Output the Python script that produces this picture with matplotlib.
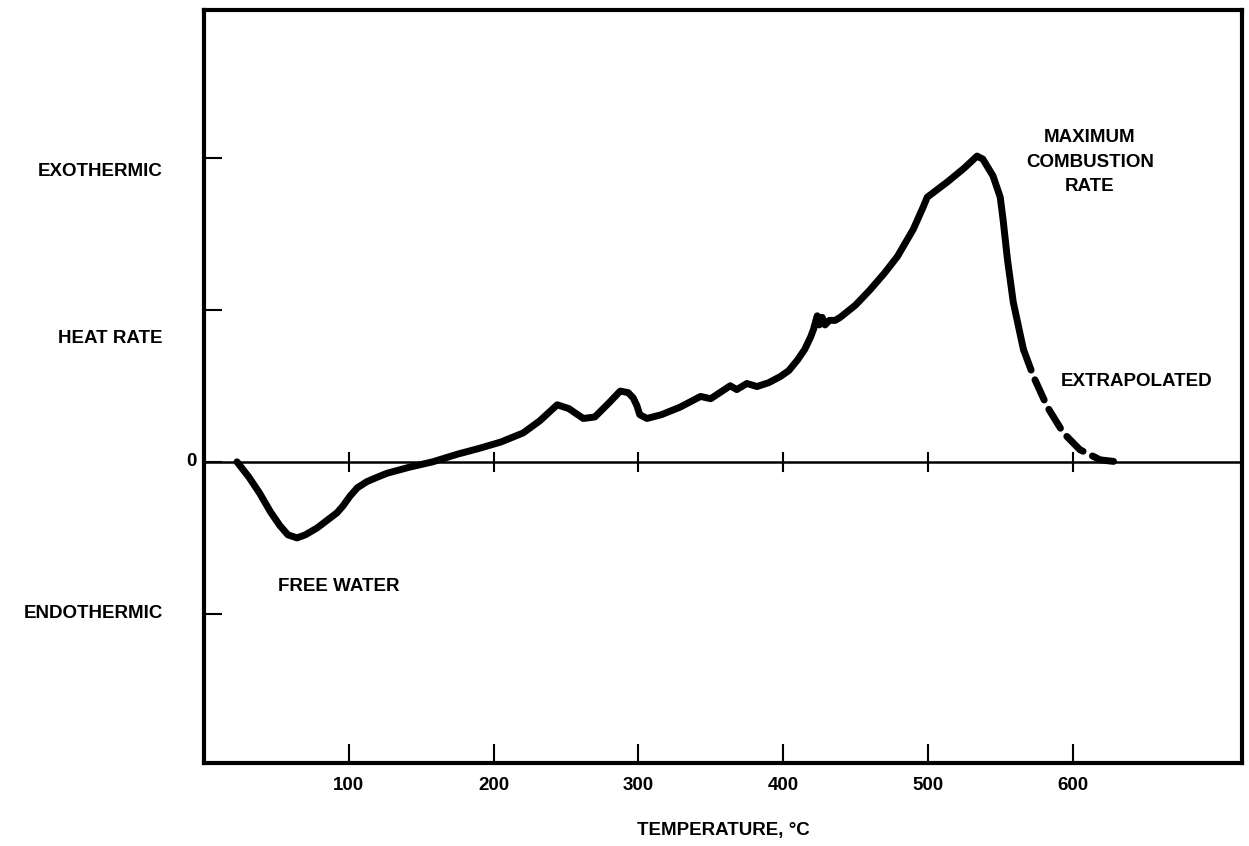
import matplotlib.pyplot as plt

# heat rate trace (temperature in C, heat rate in tick units)
temp_measured = [22.8, 31, 38.7, 46, 52.5, 58, 64.3, 70, 78.1, 85, 91.9, 96, 100.9,
                 106, 112.6, 120, 126.5, 142, 158, 175, 190.7, 205, 220.5, 232,
                 244, 252, 262, 270, 280, 287.5, 293, 296.5, 299, 301, 306, 316,
                 329, 343, 350, 363.5, 368, 375, 382, 390, 398, 404, 410, 415,
                 419, 421, 423.6, 425, 427, 429, 432, 436, 439.5, 450, 460, 470, 479,
                 490, 497, 499.6, 513.5, 525, 534, 538, 545, 550, 552, 555, 559, 566]
heat_measured = [0.0, -0.10, -0.21, -0.33, -0.42, -0.48, -0.50, -0.48, -0.435, -0.385,
                 -0.335, -0.29, -0.225, -0.17, -0.13, -0.10, -0.075, -0.035, 0.0, 0.05,
                 0.09, 0.13, 0.19, 0.27, 0.375, 0.35, 0.285, 0.295, 0.39, 0.465, 0.455,
                 0.42, 0.37, 0.31, 0.285, 0.31, 0.36, 0.43, 0.415, 0.50, 0.475, 0.515,
                 0.495, 0.52, 0.56, 0.60, 0.67, 0.74, 0.82, 0.87, 0.96, 0.90, 0.95,
                 0.90, 0.93, 0.93, 0.95, 1.03, 1.13, 1.24, 1.35, 1.53, 1.68, 1.74, 1.84,
                 1.93, 2.01, 1.99, 1.88, 1.74, 1.59, 1.33, 1.05, 0.74]

temp_extrap = [566, 573, 582.6, 593.6, 605, 619, 631]
heat_extrap = [0.74, 0.56, 0.36, 0.19, 0.08, 0.013, 0.0]

x_ticks = [100, 200, 300, 400, 500, 600]
y_ticks = [-1, 0, 1, 2]
y_labels = {2: 'EXOTHERMIC', 1: 'HEAT RATE', -1: 'ENDOTHERMIC'}

plt.rcParams['font.family'] = ['Liberation Sans', 'DejaVu Sans']
FS = 13.5
W = 'bold'

fig = plt.figure(figsize=(12.49, 8.46), dpi=100)
ax = fig.add_axes([0.1633, 0.0981, 0.8311, 0.8900])
ax.set_xlim(0, 717)
ax.set_ylim(-1.98, 2.97)

for s in ax.spines.values():
    s.set_linewidth(3)

ax.plot(temp_measured, heat_measured, color='black', lw=5,
        solid_joinstyle='round', solid_capstyle='round')
ax.plot(temp_extrap, heat_extrap, color='black', lw=5, dashes=(3.2, 1.5),
        dash_capstyle='round')

# zero line with crossing ticks
ax.axhline(0, color='black', lw=1.8)
for t in x_ticks:
    ax.plot([t, t], [-0.06, 0.06], color='black', lw=1.5)

ax.set_xticks(x_ticks)
ax.set_xticklabels([str(t) for t in x_ticks], fontsize=FS,
                   family=['Liberation Sans Narrow', 'Liberation Sans'], weight=W)
ax.tick_params(axis='x', direction='in', length=14, width=1.5, pad=10)
ax.set_yticks(y_ticks)
ax.set_yticklabels([])
ax.tick_params(axis='y', direction='in', length=13, width=1.5)

ytrans = ax.get_yaxis_transform()
for v, lab in y_labels.items():
    dy = -0.09 if v == 2 else (-0.19 if v == 1 else 0.0)
    ax.text(-0.0395, v + dy, lab, transform=ytrans, ha='right', va='center',
            fontsize=FS, weight=W)
ax.text(-0.007, 0, '0', transform=ytrans, ha='right', va='center',
        fontsize=FS, weight=W)

ax.set_xlabel('TEMPERATURE, °C', fontsize=FS, weight=W, labelpad=20)

ax.text(93, -0.82, 'FREE WATER', ha='center', va='center', fontsize=FS, weight=W)
ax.text(612, 1.97, 'MAXIMUM\nCOMBUSTION\nRATE', ha='center', va='center',
        fontsize=FS, weight=W, linespacing=1.6)
ax.text(644, 0.53, 'EXTRAPOLATED', ha='center', va='center', fontsize=FS, weight=W)

fig.savefig('out.png', dpi=100)
